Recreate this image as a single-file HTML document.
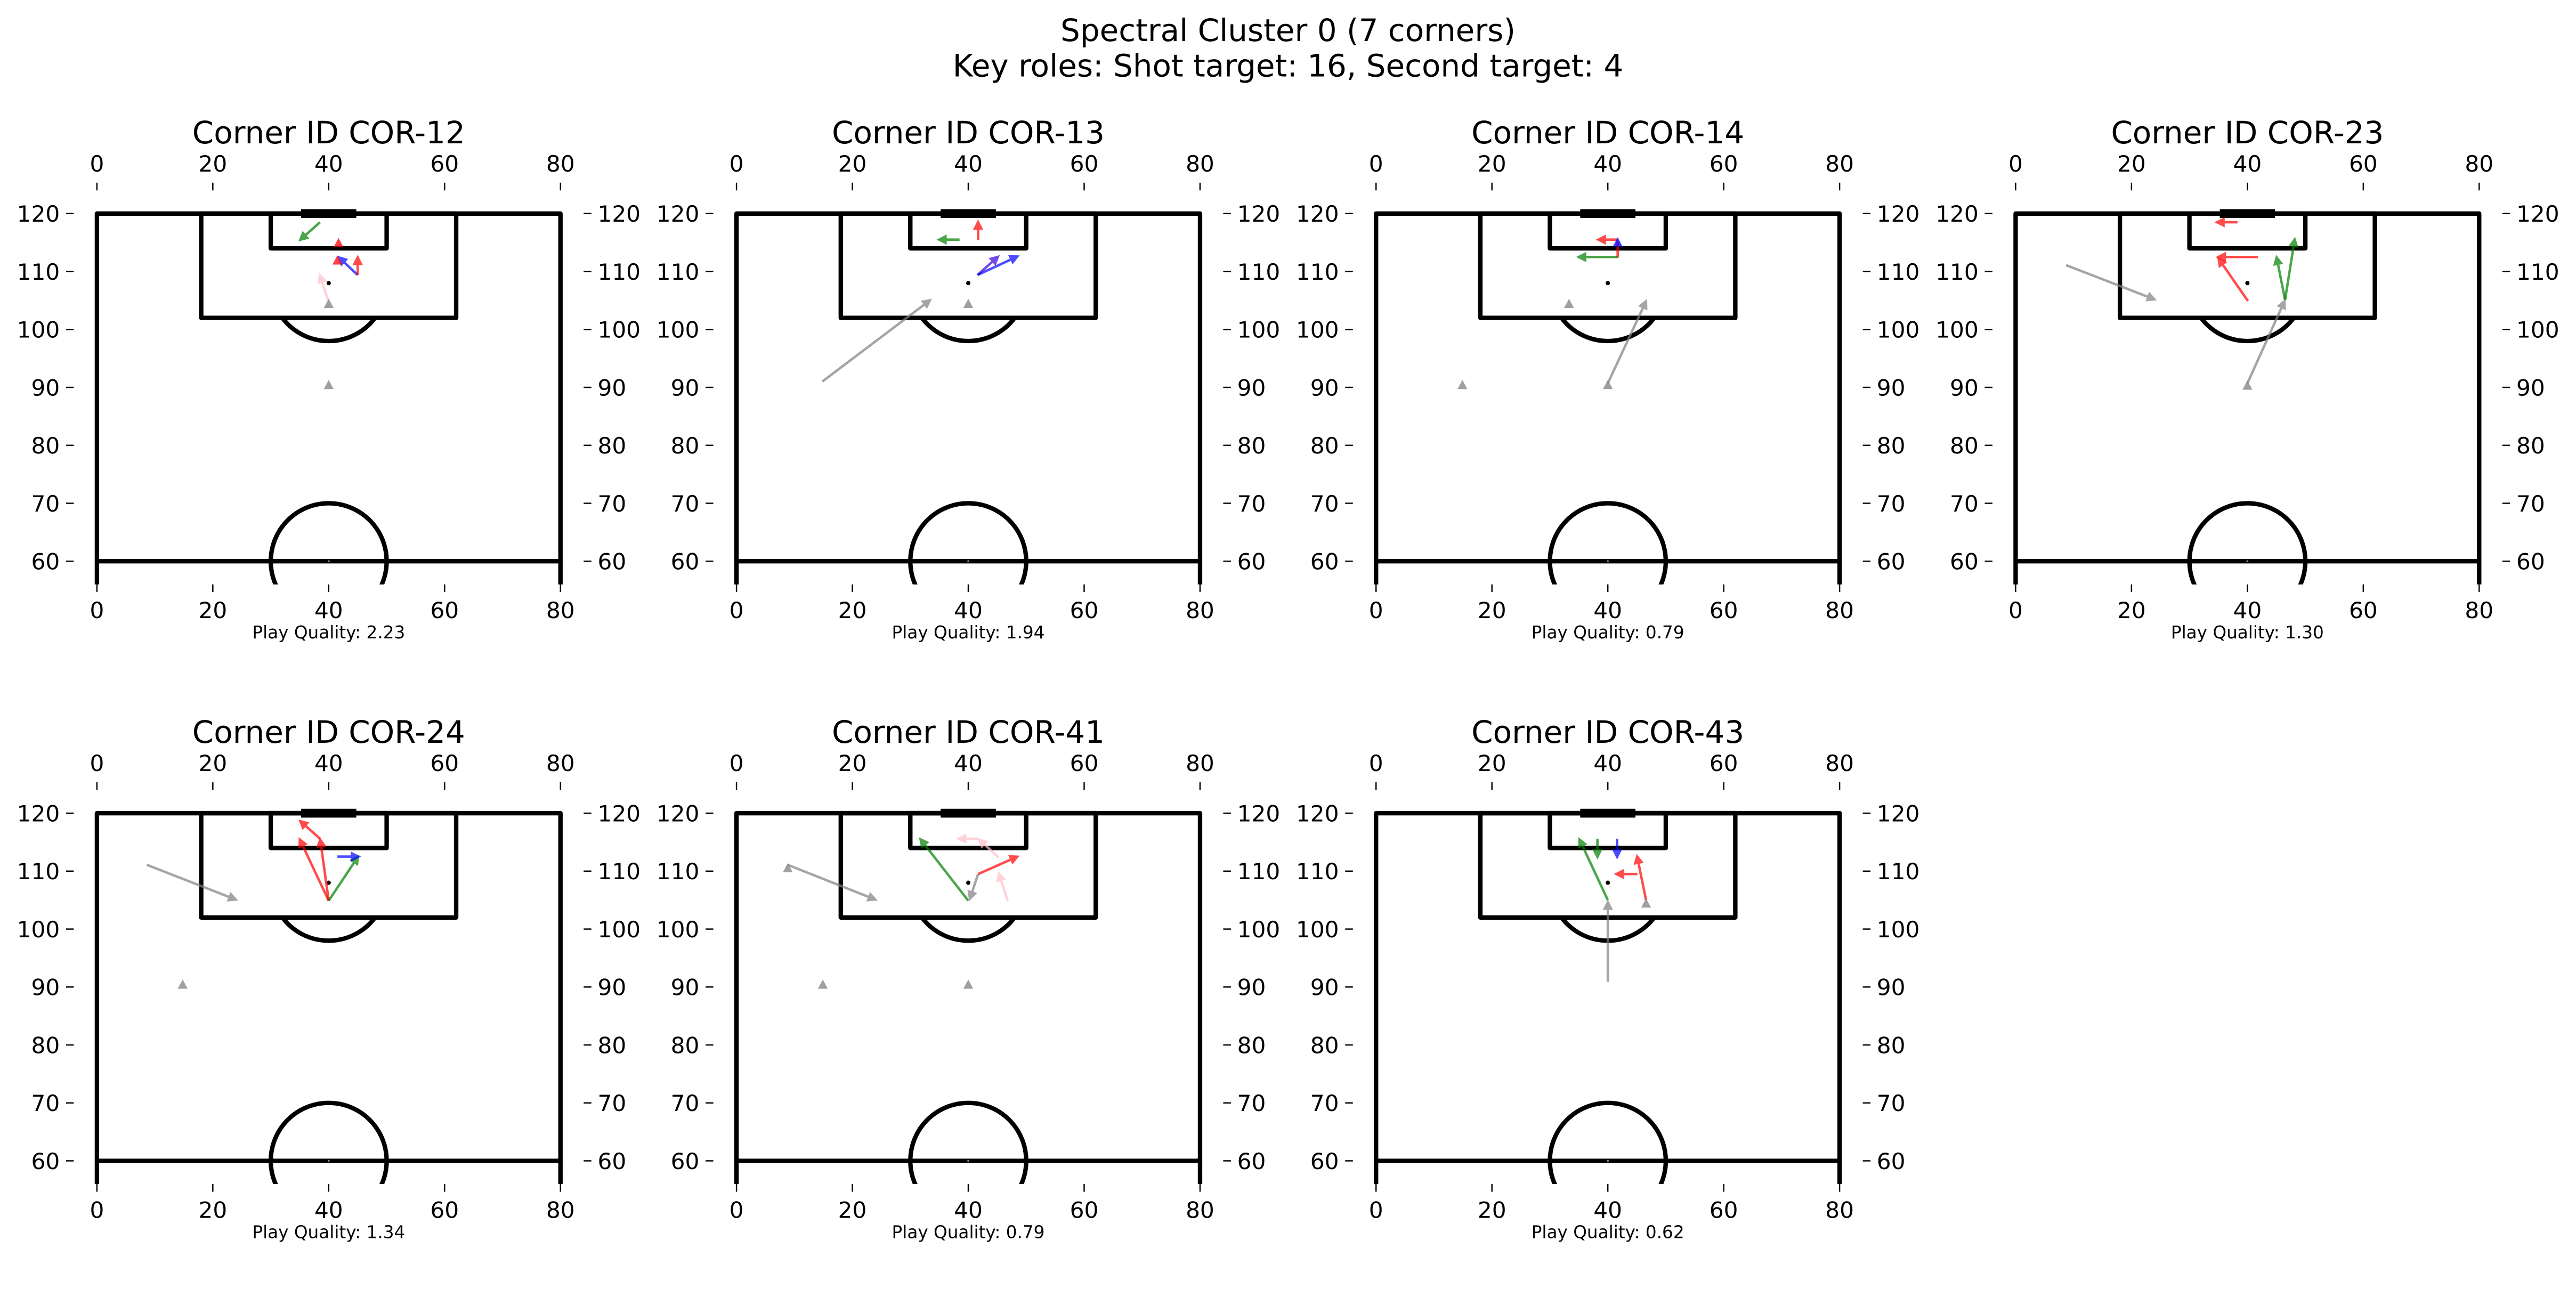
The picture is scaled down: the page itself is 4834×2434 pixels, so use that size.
<!DOCTYPE html>
<html><head><meta charset="utf-8"><style>
html,body{margin:0;padding:0;background:#fff;}
svg{display:block;}
text{font-family:"DejaVu Sans","Liberation Sans",sans-serif;fill:#000;}
</style></head>
<body>
<svg id="fig" xmlns="http://www.w3.org/2000/svg" width="4834" height="2434" viewBox="0 0 1568 789.5" preserveAspectRatio="none">
<rect x="0" y="0" width="1568" height="789.5" fill="#fff"/>
<text x="784" y="25" font-size="18.8" text-anchor="middle">Spectral Cluster 0 (7 corners)</text>
<text x="784" y="46.5" font-size="18.8" text-anchor="middle">Key roles: Shot target: 16, Second target: 4</text>
<g id="panels"></g>
</svg>
<script>
// ---- data ----
const cornerIds = ["COR-12","COR-13","COR-14","COR-23","COR-24","COR-41","COR-43"];
const qualities = ["2.23","1.94","0.79","1.30","1.34","0.79","0.62"];
const xTicks = [0,20,40,60,80];
const yTicks = [60,70,80,90,100,110,120];
// arrows: [x1,y1,x2,y2,color]
const arrows0 = [[38.5,118.5,34.9,115.3,"g"],[45,109.4,41.6,112.6,"b"],[45,109.4,45,112.7,"r"],[40,104.7,38.4,109.6,"p"]];
const arrows1 = [[41.7,115.4,41.7,118.8,"r"],[38.5,115.5,34.7,115.5,"g"],[41.6,109.4,45.3,112.7,"v"],[41.6,109.4,48.7,112.7,"b"],[14.8,91.0,33.6,105.2,"k"]];
const arrows2 = [[41.7,115.5,38.1,115.5,"r"],[41.7,112.5,34.7,112.5,"g"],[40,90.7,46.7,105.1,"k"]];
const arrows3 = [[38.3,118.5,34.5,118.5,"r"],[41.8,112.5,34.7,112.5,"r"],[40.1,104.9,34.9,112.4,"r"],[46.5,105.1,45.0,112.7,"g"],[46.5,105.1,48.2,115.8,"g"],[8.7,111.1,24.2,105.1,"k"],[40,90.7,46.5,105.1,"k"]];
const arrows4 = [[40,104.9,38.5,115.7,"r"],[40,104.9,34.9,115.7,"r"],[38.5,115.6,34.9,118.8,"r"],[40,104.9,45.2,112.7,"g"],[41.5,112.5,45.4,112.5,"b"],[8.6,111.1,24.2,105.0,"k"]];
const arrows5 = [[8.8,111.1,24.2,105.0,"k"],[40,104.9,31.6,115.7,"g"],[41.7,109.5,40.2,105.0,"k"],[41.7,109.5,48.7,112.6,"r"],[46.8,104.9,45.2,109.8,"p"],[45.2,112.4,41.7,115.6,"p"],[41.7,115.6,38.1,115.6,"p"]];
const arrows6 = [[40,90.9,40,104.9,"k"],[40,105,35,115.7,"g"],[38.2,115.6,38.2,112.2,"g"],[41.6,115.6,41.6,112.2,"b"],[46.6,105,45,112.8,"r"],[45.1,109.5,41.2,109.5,"r"]];
// lines without heads
const segs2 = [[41.7,112.4,41.7,115.2,"r"]];
// triangle markers: [x,y,color]
const tris0 = [[41.7,115.0,"r"],[41.5,112.0,"r"],[40,104.5,"k"],[40,90.5,"k"]];
const tris1 = [[40,104.5,"k"]];
const tris2 = [[41.7,115.1,"b"],[33.3,104.5,"k"],[14.9,90.5,"k"],[40,90.5,"k"]];
const tris3 = [[40,90.4,"k"]];
const tris4 = [[14.8,90.5,"k"]];
const tris5 = [[8.85,110.6,"k"],[14.9,90.5,"k"],[40,90.5,"k"]];
const tris6 = [[46.6,104.5,"k"]];

const allArrows=[arrows0,arrows1,arrows2,arrows3,arrows4,arrows5,arrows6];
const allTris=[tris0,tris1,tris2,tris3,tris4,tris5,tris6];
const allSegs=[[],[],segs2,[],[],[],[]];
const colors={r:"#ff0000",g:"#008000",b:"#0000ff",k:"#808080",p:"#ffc0cb",v:"#3a00d8"};

const NS="http://www.w3.org/2000/svg";
const root=document.getElementById("panels");
const S=3.527;
function mk(tag,attrs,parent){const e=document.createElementNS(NS,tag);for(const k in attrs)e.setAttribute(k,attrs[k]);parent.appendChild(e);return e;}

cornerIds.forEach((cid,i)=>{
  const col=i%4,row=Math.floor(i/4);
  const x0=59+389.3*col, y120=130+365*row;
  const X=v=>x0+v*S, Y=v=>y120+(120-v)*S;
  const g=mk("g",{},root);
  
  
  const axL=X(-4),axR=X(84),axT=Y(124),axB=Y(56);
  const cp=mk("clipPath",{id:"cp"+i},g);
  mk("rect",{x:axL,y:axT,width:axR-axL,height:axB-axT},cp);
  // title
  const t=mk("text",{x:X(40),y:y120-42.8,"font-size":18.8,"text-anchor":"middle"},g);
  t.textContent="Corner ID "+cid;
  
  
  // ticks
  xTicks.forEach(v=>{
    mk("line",{x1:X(v),x2:X(v),y1:axT-4.7,y2:axT,stroke:"#000","stroke-width":0.8},g);
    mk("line",{x1:X(v),x2:X(v),y1:axB,y2:axB+4.7,stroke:"#000","stroke-width":0.8},g);
    const a=mk("text",{x:X(v),y:y120-25.6,"font-size":13.7,"text-anchor":"middle"},g);a.textContent=v;
    
    
    const b=mk("text",{x:X(v),y:y120+246.3,"font-size":13.7,"text-anchor":"middle"},g);b.textContent=v;
    
    
  });
  yTicks.forEach(v=>{
    mk("line",{x1:axL-4.7,x2:axL,y1:Y(v),y2:Y(v),stroke:"#000","stroke-width":0.8},g);
    mk("line",{x1:axR,x2:axR+4.7,y1:Y(v),y2:Y(v),stroke:"#000","stroke-width":0.8},g);
    const a=mk("text",{x:axL-8.5,y:Y(v)+5,"font-size":13.7,"text-anchor":"end"},g);a.textContent=v;
    
    
    const b=mk("text",{x:axR+8.5,y:Y(v)+5,"font-size":13.7,"text-anchor":"start"},g);b.textContent=v;
    
    
  });
  // pitch
  const p=mk("g",{"clip-path":"url(#cp"+i+")",fill:"none",stroke:"#000","stroke-width":2.7,"stroke-linejoin":"round"},g);
  
  
  mk("rect",{x:X(0),y:Y(120),width:80*S,height:60*S},p);
  mk("path",{d:`M${X(0)} ${Y(60)}V${axB+3}M${X(80)} ${Y(60)}V${axB+3}`},p);
  mk("rect",{x:X(18),y:Y(120),width:44*S,height:18*S},p);
  mk("rect",{x:X(30),y:Y(120),width:20*S,height:6*S},p);
  const r=10*S, dy=6*S, dx=Math.sqrt(r*r-dy*dy);
  mk("path",{d:`M${X(40)-dx} ${Y(102)}A${r} ${r} 0 0 0 ${X(40)+dx} ${Y(102)}`},p);
  mk("circle",{cx:X(40),cy:Y(60),r:r},p);
  mk("line",{x1:X(36),x2:X(44),y1:Y(120),y2:Y(120),"stroke-width":5.4,"stroke-linecap":"square"},p);
  mk("circle",{cx:X(40),cy:Y(108),r:1.3,fill:"#000",stroke:"none"},p);
  mk("circle",{cx:X(40),cy:Y(60),r:0.6,fill:"#888",stroke:"none"},p);
  // marks
  const m=mk("g",{"clip-path":"url(#cp"+i+")"},g);
  allSegs[i].forEach(s=>{
    const l=mk("line",{x1:X(s[0]),y1:Y(s[1]),x2:X(s[2]),y2:Y(s[3]),stroke:colors[s[4]],"stroke-width":1.5,opacity:0.7},m);
    
    
  });
  allArrows[i].forEach(a=>{
    const x1=X(a[0]),y1=Y(a[1]),x2=X(a[2]),y2=Y(a[3]);
    const L=Math.hypot(x2-x1,y2-y1)||1, ux=(x2-x1)/L, uy=(y2-y1)/L;
    const hl=1.5*S, hw=0.75*S;
    const bx=x2-ux*hl, by=y2-uy*hl;
    const ag=mk("g",{opacity:0.7},m);
    
    
    mk("line",{x1:x1,y1:y1,x2:bx,y2:by,stroke:colors[a[4]],"stroke-width":1.5},ag);
    mk("polygon",{points:`${x2},${y2} ${bx-uy*hw},${by+ux*hw} ${bx+uy*hw},${by-ux*hw}`,fill:colors[a[4]],stroke:colors[a[4]],"stroke-width":0.6},ag);
  });
  allTris[i].forEach(tr=>{
    const cx=X(tr[0]),cy=Y(tr[1]),w=0.85*S,h=0.8*S;
    const pg=mk("polygon",{points:`${cx},${cy-h} ${cx-w},${cy+h} ${cx+w},${cy+h}`,fill:colors[tr[2]],opacity:0.75},m);
    
    
  });
  const q=mk("text",{x:X(40),y:y120+258.6,"font-size":10.6,"text-anchor":"middle"},g);
  q.textContent="Play Quality: "+qualities[i];
  
  
});
</script>
</body></html>
